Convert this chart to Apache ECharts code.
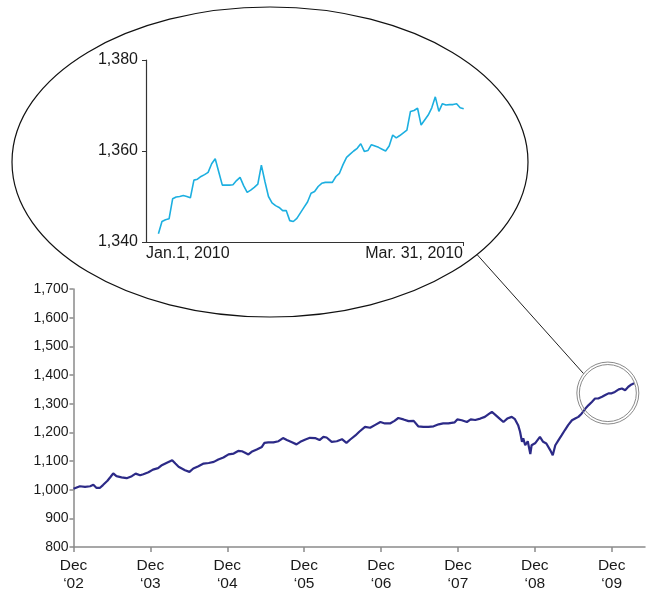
<!DOCTYPE html>
<html><head><meta charset="utf-8">
<script src="https://cdn.jsdelivr.net/npm/echarts@6/dist/echarts.min.js"></script>
<style>html,body{margin:0;padding:0;background:#fff}#c{width:652px;height:590px}</style>
</head><body><div id="c"></div>
<script>
// Main series: months since Dec 2002, index value
const mainMonths = [0.0,0.2,1.0,1.8,2.6,3.1,3.6,4.1,4.6,5.3,5.8,6.2,6.7,7.5,8.3,9.1,9.7,10.4,10.9,11.7,
12.4,13.2,13.7,14.5,14.8,15.4,15.9,16.4,16.9,17.4,18.1,18.7,19.5,20.3,21.1,21.9,22.6,23.4,24.2,25.0,
25.7,26.3,26.7,27.3,27.8,28.6,29.4,29.8,30.4,31.2,32.0,32.7,33.3,34.1,34.8,35.4,36.2,36.9,37.7,38.4,
39.0,39.5,40.3,41.1,41.9,42.6,43.2,44.0,44.6,45.5,46.3,47.1,47.9,48.6,49.4,50.1,50.7,51.5,52.3,53.1,
53.8,54.6,55.4,56.2,57.0,57.7,58.5,59.5,59.9,60.6,61.4,62.0,62.7,63.5,64.2,64.9,65.3,65.8,66.5,67.1,
67.7,68.4,68.9,69.4,69.7,70.0,70.2,70.5,70.9,71.3,71.5,72.1,72.4,72.8,73.3,73.8,74.0,74.4,74.8,75.2,
75.7,76.2,76.7,77.2,77.8,78.3,78.8,79.3,79.9,80.4,80.9,81.4,81.9,82.5,83.0,83.5,84.0,84.5,85.1,85.6,
86.1,86.6,87.1,87.5];
const mainValues = [1003,1008,1012,1010,1012,1017,1006,1006,1016,1031,1045,1057,1047,1043,1040,1047,1056,1050,1054,1061,
1070,1075,1084,1093,1097,1103,1091,1080,1074,1068,1062,1074,1082,1091,1093,1097,1105,1112,1123,1126,
1135,1134,1130,1123,1132,1140,1149,1163,1165,1165,1169,1180,1173,1165,1158,1167,1175,1181,1180,1173,
1184,1182,1167,1169,1176,1163,1175,1189,1202,1219,1216,1226,1236,1231,1231,1240,1250,1245,1239,1240,
1221,1219,1219,1221,1228,1231,1231,1235,1245,1242,1236,1245,1243,1248,1254,1265,1271,1262,1248,1236,
1248,1254,1246,1225,1202,1167,1179,1155,1169,1124,1155,1163,1167,1184,1167,1161,1167,1138,1120,1155,
1173,1190,1208,1225,1242,1248,1254,1265,1283,1295,1306,1318,1318,1324,1330,1336,1336,1341,1350,1353,
1347,1359,1367,1371];
const yearTicks = [0,12,24,36,48,60,72,84];
const yearLabels = ['‘02','‘03','‘04','‘05','‘06','‘07','‘08','‘09'];

// Inset series: Jan 1 – Mar 31, 2010
const insetValues = [1341.8,1344.5,1344.9,1345.1,1349.5,1349.9,1350.0,1350.2,1350.0,1349.7,
1353.6,1353.8,1354.4,1354.8,1355.3,1357.2,1358.3,1355.4,1352.5,1352.5,
1352.5,1352.6,1353.5,1354.2,1352.4,1350.9,1351.4,1352.0,1352.7,1356.9,
1353.3,1350.0,1348.6,1348.0,1347.6,1346.9,1346.9,1344.7,1344.5,1345.2,
1346.4,1347.6,1348.8,1350.7,1351.1,1352.2,1352.9,1353.1,1353.1,1353.1,
1354.4,1355.1,1357.0,1358.6,1359.3,1360.0,1360.6,1361.6,1359.9,1360.1,
1361.4,1361.1,1360.8,1360.4,1360.0,1361.1,1363.5,1362.9,1363.4,1364.0,
1364.6,1368.7,1368.9,1369.4,1365.7,1366.8,1367.9,1369.5,1371.9,1368.7,
1370.4,1370.1,1370.2,1370.2,1370.4,1369.5,1369.3];
const insetStartLabel = 'Jan.1, 2010';
const insetEndLabel = 'Mar. 31, 2010';
const zoomCenter = [83.4, 1337];

const FONT = 'Arial, "Liberation Sans", sans-serif';
const comma = v => String(v).replace(/\B(?=(\d{3})+(?!\d))/g, ',');
const chart = echarts.init(document.getElementById('c'));
const lastIdx = insetValues.length - 1;

chart.setOption({
  animation: false,
  backgroundColor: '#fff',
  grid: [
    {left: 73.5, right: 7, top: 289, bottom: 43, outerBoundsMode: 'none', containLabel: false},
    {left: 146, right: 189, top: 60, bottom: 348, outerBoundsMode: 'none', containLabel: false}
  ],
  xAxis: [
    {type: 'value', gridIndex: 0, min: 0, max: 89.2,
     axisLine: {onZero: false, lineStyle: {color: '#8a8a8a', width: 1.5}},
     axisTick: {customValues: yearTicks, length: 5, lineStyle: {color: '#8a8a8a', width: 1.5}},
     axisLabel: {customValues: yearTicks, formatter: v => 'Dec\n' + yearLabels[yearTicks.indexOf(v)],
       fontSize: 15.5, lineHeight: 18.5, color: '#1a1a1a', margin: 9, fontFamily: FONT},
     splitLine: {show: false}},
    {type: 'value', gridIndex: 1, min: -3.5, max: lastIdx - 0.2,
     axisLine: {onZero: false, lineStyle: {color: '#333', width: 1.2}},
     axisTick: {customValues: [lastIdx - 0.2], length: 4, lineStyle: {color: '#333'}},
     axisLabel: {customValues: [-3.5, lastIdx - 0.2], formatter: v => v < 0 ? insetStartLabel : insetEndLabel,
       alignMinLabel: 'left', alignMaxLabel: 'right', fontSize: 16, color: '#1a1a1a', margin: 4, fontFamily: FONT},
     splitLine: {show: false}}
  ],
  yAxis: [
    {type: 'value', gridIndex: 0, min: 800, max: 1700, interval: 100,
     axisLine: {show: true, onZero: false, lineStyle: {color: '#8a8a8a', width: 1.5}},
     axisTick: {show: true, length: 4, lineStyle: {color: '#8a8a8a', width: 1.5}},
     axisLabel: {formatter: comma, fontSize: 14, color: '#1a1a1a', margin: 5, fontFamily: FONT},
     splitLine: {show: false}},
    {type: 'value', gridIndex: 1, min: 1340, max: 1380, interval: 20,
     axisLine: {show: true, onZero: false, lineStyle: {color: '#333', width: 1.2}},
     axisTick: {show: true, length: 4, lineStyle: {color: '#333'}},
     axisLabel: {formatter: comma, fontSize: 16, color: '#1a1a1a', margin: 8, fontFamily: FONT},
     splitLine: {show: false}}
  ],
  series: [
    {type: 'line', xAxisIndex: 0, yAxisIndex: 0, showSymbol: false,
     data: mainMonths.map((m, i) => [m, mainValues[i]]),
     lineStyle: {color: '#2c2a87', width: 2.2}},
    {type: 'line', xAxisIndex: 1, yAxisIndex: 1, showSymbol: false,
     data: insetValues.map((v, i) => [i, v]),
     lineStyle: {color: '#1cafe0', width: 1.6}}
  ]
});

const c = chart.convertToPixel({xAxisIndex: 0, yAxisIndex: 0}, zoomCenter);
const R = 31;
const ang = Math.atan2(-20, -25);
const end = [c[0] + R * Math.cos(ang), c[1] + R * Math.sin(ang)];
chart.setOption({
  graphic: [
    {type: 'ellipse', shape: {cx: 270, cy: 162, rx: 258, ry: 155}, silent: true, z: 10,
     style: {fill: 'none', stroke: '#111', lineWidth: 1.2}},
    {type: 'line', shape: {x1: 477, y1: 254.5, x2: end[0], y2: end[1]}, silent: true, z: 10,
     style: {stroke: '#222', lineWidth: 1}},
    {type: 'circle', shape: {cx: c[0], cy: c[1], r: R}, silent: true, z: 10,
     style: {fill: 'none', stroke: '#8a8a8a', lineWidth: 1}},
    {type: 'circle', shape: {cx: c[0], cy: c[1], r: R - 2.5}, silent: true, z: 10,
     style: {fill: 'none', stroke: '#8a8a8a', lineWidth: 1}}
  ]
});
</script></body></html>
